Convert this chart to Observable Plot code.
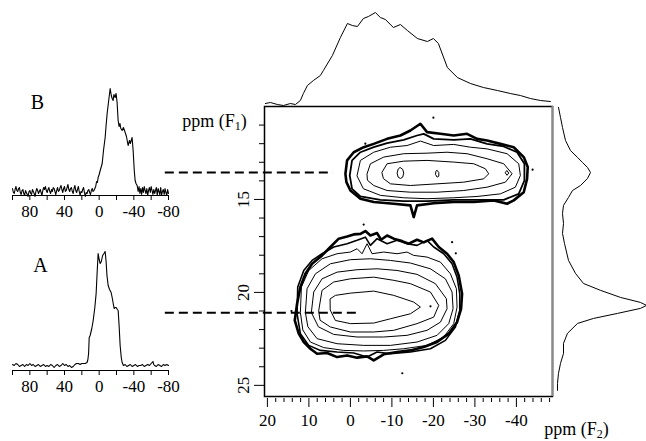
<!DOCTYPE html>
<html><head><meta charset="utf-8">
<script src="https://cdn.jsdelivr.net/npm/d3@7"></script>
<script src="https://cdn.jsdelivr.net/npm/@observablehq/plot@0.6"></script>
<style>
body{margin:0;background:#fff;}
#chart{position:relative;width:646px;height:441px;overflow:hidden;background:#fff;}
#chart svg{position:absolute;left:0;top:0;}
</style></head><body><div id="chart"></div>
<script>
// ---------- scales / ticks ----------
const F2_DOMAIN = [20.7, -48.7];
const F1_DOMAIN = [10, 25.6];
const f2Major = [20, 10, 0, -10, -20, -30, -40];
const f2Minor = [18,16,14,12,8,6,4,2,-2,-4,-6,-8,-12,-14,-16,-18,-22,-24,-26,-28,-32,-34,-36,-38,-42,-44,-46,-48];
const f1Major = [15, 20, 25];
const f1Minor = [11,12,13,14,16,17,18,19,21,22,23,24];
const specDomain = [100, -80];
const specMajor = [80, 40, 0, -40, -80];
const specMinor = [100, 60, 20, -20, -60];

// ---------- 1D spectrum B  [ppm, intensity] ----------
const spectrumB = [[100,2],[99,-2],[98,-3],[97,1],[96,4],[95,0],[94,-1],[93,2],[92,3],[91,-2],[90,-4],[89,0],[88,1],[87,-3],[86,-5],[85,0],[84,-2],[83,-4],[82,-6],[81,-1],[80,0],[79,-3],[78,-4],[77,1],[76,-1],[75,-3],[74,-6],[73,-1],[72,2],[71,0],[70,-3],[69,-1],[68,1],[67,-2],[66,-5],[65,0],[64,3],[63,1],[62,4],[61,0],[60,-2],[59,1],[58,3],[57,-1],[56,-3],[55,1],[54,-1],[53,3],[52,2],[51,-1],[50,-4],[49,0],[48,3],[47,-1],[46,0],[45,3],[44,5],[43,1],[42,-2],[41,2],[40,4],[39,-1],[38,0],[37,3],[36,6],[35,1],[34,-1],[33,2],[32,3],[31,-1],[30,-3],[29,2],[28,5],[27,0],[26,-2],[25,1],[24,4],[23,-1],[22,-5],[21,-1],[20,-2],[19,1],[18,3],[17,-2],[16,-6],[15,-2],[14,-3],[13,0],[12,1],[11,-2],[10,-4],[9,0],[8,2],[7,-1],[6,0],[5,2],[4,4],[3,9],[2,8],[1.2,13],[0,16],[-1.2,20],[-2.5,24],[-3.5,27],[-5,40],[-6.9,53],[-8,65],[-9.2,77],[-11,90],[-12.7,102],[-14,95],[-15,92],[-16.1,90],[-17,96],[-18.4,93],[-19.5,97],[-20.7,88],[-21.9,70],[-23,64],[-24,67],[-25,62],[-26.5,60],[-28,63],[-30,58],[-31.5,54],[-33.4,45],[-35,50],[-36,47],[-38,53],[-39.2,40],[-40.5,20],[-41.5,10],[-42.5,7],[-43.8,5],[-45,-1],[-46,4],[-47,-3],[-48,2],[-49,-4],[-50,3],[-51,-2],[-52,4],[-53,0],[-54,-3],[-55,2],[-56,-5],[-57,0],[-58,3],[-59,-2],[-60,4],[-61,0],[-62,-4],[-63,1],[-64,-3],[-65,0],[-66,3],[-67,-5],[-68,2],[-69,-1],[-70,-4],[-71,3],[-72,-5],[-73,-1],[-74,1],[-75,-4],[-76,2],[-77,-2],[-78,-5],[-79,1],[-80,-3]];

// ---------- 1D spectrum A  [ppm, intensity] ----------
const spectrumA = [[100,1],[98,0],[96,2],[94,1],[92,-1],[90,0],[88,1],[86,-1],[84,1],[82,0],[80,2],[78,0],[76,1],[74,-1],[72,0],[70,1],[68,-1],[66,0],[64,1],[62,-1],[60,0],[58,-1],[56,1],[54,0],[52,-2],[50,0],[48,1],[46,-1],[44,0],[42,2],[40,0],[38,1],[36,-1],[34,0],[32,-2],[30,-1],[28,1],[26,2],[24,2],[22,1],[20,2],[18,2],[16,2],[14,3],[13,6],[12.2,12],[11.5,28],[10.4,30],[8.5,37],[6.9,45],[5,58],[3.5,72],[2.5,90],[1.2,112],[0,106],[-1.2,102],[-2.5,104],[-4,110],[-5.5,112],[-6.9,114],[-8,104],[-9,90],[-10.4,80],[-12,76],[-13.8,73],[-15,68],[-16,63],[-17.3,57],[-18.5,58],[-19.6,58],[-21,56],[-21.9,55],[-23,40],[-24.2,20],[-25.5,8],[-26.5,3],[-28,0],[-30,1],[-32,-1],[-34,0],[-36,1],[-38,-1],[-40,0],[-42,1],[-44,-1],[-46,0],[-48,0],[-50,1],[-52,-1],[-54,0],[-56,1],[-58,0],[-60,2],[-62,4],[-63,1],[-64,0],[-66,-1],[-68,1],[-70,0],[-72,-1],[-74,1],[-76,0],[-78,1],[-80,0]];

// ---------- F2 projection (top)  [ppm F2, intensity] ----------
const projF2 = [[20.48,3],[19.28,4],[17.59,2],[16.14,1],[14.46,3],[13.25,2],[12.05,6],[11.33,13],[10.36,21],[8.92,26],[7.23,31],[6.51,36],[4.34,51],[2.41,69],[0.72,83],[-0.48,81],[-1.69,80],[-3.13,88],[-4.34,90],[-6.02,94],[-7.23,89],[-8.43,87],[-10.36,79],[-12.05,82],[-13.73,76],[-16.14,68],[-18.55,65],[-20,68],[-21.2,63],[-23.37,39],[-25.78,29],[-28.92,23],[-32.05,19],[-35.42,16],[-38.55,13],[-40.96,11],[-43.37,8],[-45.78,6],[-48.19,5]];

// ---------- F1 projection (right)  [ppm F1, intensity] ----------
const projF1 = [[10.05,2],[10.59,4],[11.13,6],[11.83,9],[12.37,14],[12.74,21],[13.01,26],[13.28,31],[13.55,34],[13.87,31],[14.25,24],[14.52,16],[14.89,12],[15.32,7],[15.75,6],[16.29,7],[16.83,6],[17.37,8],[18.28,12],[18.98,19],[19.52,27],[19.89,44],[20.27,64],[20.54,84],[20.7,90],[20.86,84],[21.13,61],[21.4,37],[21.67,21],[22.2,11],[22.74,7],[23.28,7],[23.82,4],[24.35,2],[24.89,1],[25.27,1]];

// ---------- 2D contours, site A (lower)  [F2, F1] ----------
const contourA1 = [[13.41,21.51],[12.85,20.61],[12.05,19.71],[10.84,19.0],[9.24,18.46],[6.83,18.01],[4.82,17.56],[2.81,17.11],[0.8,16.99],[-0.8,16.88],[-2.41,16.85],[-3.61,16.7],[-4.82,16.94],[-6.43,16.81],[-7.39,17.17],[-8.84,16.94],[-10.44,17.11],[-12.45,17.24],[-14.06,17.38],[-16.06,17.17],[-17.67,17.31],[-19.68,17.11],[-21.29,17.56],[-23.29,17.92],[-24.9,18.37],[-26.1,19.09],[-26.91,20.07],[-26.67,20.88],[-25.7,21.6],[-23.69,22.22],[-20.88,22.67],[-17.67,22.94],[-14.46,23.12],[-11.24,23.21],[-8.03,23.33],[-5.62,23.66],[-4.02,23.44],[-1.61,23.51],[0.8,23.39],[3.21,23.48],[5.62,23.26],[8.03,23.3],[9.64,23.03],[11.24,22.67],[12.45,22.22]];
const contourA2 = [[12.85,21.15],[12.69,19.71],[11.24,18.82],[9.24,18.28],[6.83,17.92],[4.02,17.56],[0.8,17.38],[-1.61,17.2],[-3.61,17.03],[-4.82,17.47],[-6.43,17.11],[-8.84,17.38],[-11.24,17.2],[-13.65,17.38],[-16.06,17.47],[-18.47,17.2],[-20.08,17.56],[-22.49,17.92],[-24.5,18.46],[-25.7,19.18],[-26.35,20.07],[-26.35,20.97],[-25.3,21.86],[-22.89,22.58],[-19.28,23.03],[-14.46,23.21],[-9.64,23.3],[-6.43,23.21],[-4.02,23.48],[-0.8,23.26],[3.21,23.21],[7.23,23.12],[10.04,22.85],[12.05,22.22]];
const contourA3 = [[12.05,21.06],[11.81,19.71],[10.04,18.82],[6.83,18.19],[3.21,17.92],[0,17.83],[-1.61,17.65],[-2.81,17.92],[-4.02,17.38],[-5.22,17.92],[-8.03,17.83],[-11.24,17.92],[-13.65,17.83],[-15.26,18.01],[-18.47,18.1],[-21.69,18.37],[-24.1,19.0],[-25.54,19.8],[-25.7,20.79],[-24.9,21.68],[-22.49,22.4],[-18.47,22.85],[-12.85,23.03],[-8.03,23.12],[-3.21,23.15],[1.61,23.12],[6.43,22.97],[9.64,22.67],[11.41,22.04]];
const contourA4 = [[10.84,21.06],[10.44,19.8],[8.43,19.0],[4.82,18.46],[0,18.24],[-4.82,18.19],[-9.64,18.28],[-14.46,18.42],[-19.28,18.73],[-22.89,19.27],[-24.5,19.98],[-24.74,20.88],[-23.69,21.68],[-20.88,22.31],[-16.06,22.67],[-9.64,22.85],[-3.21,22.85],[3.21,22.76],[8.03,22.49],[10.2,21.86]];
const contourA5 = [[9.4,21.06],[8.84,19.98],[6.83,19.27],[3.21,18.91],[-1.61,18.78],[-6.43,18.73],[-11.24,18.82],[-16.06,19.03],[-20.48,19.53],[-23.13,20.34],[-23.29,20.88],[-21.69,21.6],[-18.47,22.04],[-13.65,22.31],[-8.03,22.4],[-1.61,22.4],[4.02,22.26],[7.63,21.86]];
const contourA6 = [[7.63,20.97],[6.83,19.89],[4.02,19.44],[0,19.27],[-5.62,19.18],[-10.44,19.35],[-14.46,19.53],[-19.28,19.98],[-21.29,20.7],[-20.08,21.33],[-16.06,21.68],[-10.44,22.04],[-5.62,22.13],[0,22.13],[4.82,21.86],[7.23,21.51]];
const contourA7 = [[4.82,20.34],[3.61,20.16],[0,20.04],[-5.62,19.93],[-10.44,20.16],[-15.26,20.52],[-16.87,20.79],[-14.46,21.15],[-9.64,21.42],[-5.62,21.65],[0,21.68],[3.61,21.51],[4.82,20.97]];

// ---------- 2D contours, site B (upper)  [F2, F1] ----------
const contourB1 = [[1.2,13.62],[0.8,12.9],[-0.8,12.46],[-3.21,12.19],[-5.62,12.01],[-8.84,11.74],[-12.05,11.56],[-14.46,11.29],[-16.87,10.93],[-18.47,11.38],[-21.69,11.47],[-24.9,11.56],[-28.11,11.47],[-30.52,11.74],[-32.93,11.83],[-36.14,12.01],[-39.36,12.19],[-41.77,12.72],[-42.73,13.26],[-42.57,13.89],[-41.77,14.61],[-39.36,15.05],[-37.75,15.23],[-34.54,15.05],[-29.72,15.14],[-24.9,15.14],[-20.08,15.2],[-16.06,15.32],[-15.26,15.95],[-14.46,15.32],[-10.44,15.23],[-5.62,15.14],[-2.41,14.96],[0,14.52],[0.96,14.07]];
const contourB2 = [[0.16,13.71],[-0.4,12.9],[-2.41,12.46],[-5.62,12.19],[-8.84,11.97],[-12.85,11.79],[-16.06,11.56],[-17.67,11.47],[-20.08,11.74],[-24.9,11.79],[-28.92,11.74],[-32.93,12.01],[-36.95,12.15],[-40.16,12.46],[-41.93,13.08],[-41.93,13.98],[-40.56,14.7],[-36.95,15.02],[-31.33,15.02],[-24.9,15.02],[-18.47,15.09],[-12.85,15.09],[-7.23,15.02],[-2.41,14.84],[-0.4,14.43]];
const contourB3 = [[-1.61,13.71],[-2.41,12.9],[-5.62,12.46],[-9.64,12.19],[-13.65,12.1],[-16.87,11.86],[-20.08,12.1],[-24.9,12.04],[-28.92,12.19],[-32.93,12.28],[-37.75,12.54],[-40.56,13.08],[-40.96,13.71],[-39.76,14.34],[-36.14,14.7],[-30.52,14.84],[-24.9,14.91],[-18.47,14.96],[-12.85,14.91],[-7.23,14.78],[-3.21,14.43]];
const contourB4 = [[-4.02,13.62],[-4.82,13.08],[-8.03,12.72],[-12.85,12.54],[-18.47,12.51],[-23.29,12.46],[-28.11,12.54],[-32.93,12.81],[-36.95,13.08],[-38.96,13.62],[-37.35,14.07],[-32.93,14.34],[-27.31,14.52],[-20.88,14.61],[-14.46,14.61],[-8.84,14.52],[-5.62,14.25],[-4.18,13.98]];
const contourB5 = [[-7.63,13.53],[-8.84,13.08],[-12.85,12.94],[-18.47,12.9],[-24.9,12.99],[-29.72,13.08],[-32.53,13.35],[-33.33,13.62],[-32.13,13.89],[-27.31,14.07],[-20.88,14.16],[-14.46,14.25],[-9.64,14.16],[-8.03,13.89]];
const contourB6 = [[-12.05,13.29],[-12.6,13.38],[-12.85,13.58],[-12.6,13.8],[-12.05,13.87],[-11.5,13.8],[-11.25,13.58],[-11.5,13.38]];
const contourB7 = [[-20.9,13.44],[-21.3,13.55],[-21.3,13.75],[-20.9,13.8],[-20.5,13.65],[-20.6,13.5]];
const contourB8 = [[-37.75,13.46],[-38.15,13.58],[-37.75,13.7],[-37.35,13.58]];

// isolated noise specks [F2, F1]
const specks = [[-20,10.6],[-3.2,16.35],[-19.3,20.75],[-12.5,24.35],[-24.5,17.3],[-25.4,17.9],[-43.9,13.4],[-3.6,12.0],[14.2,21.0]];

// dashed guide lines: F1 level, F2 start, F2 end
const guideF1 = [13.55, 21.1];
const guideFrom = [44.6, 44.6];
const guideTo = [4.1, -2.4];

// ---------- drawing ----------
const W = 646, H = 441;
const FONT = "'Liberation Serif','Times New Roman',serif";
const baseStyle = {background: "transparent", overflow: "visible", fontFamily: FONT, fontSize: "17px", color: "black"};
const chartEl = document.getElementById("chart");
const X = d => d[0], Y = d => d[1];
const TXT = {textAnchor: "middle", lineAnchor: "middle", fill: "black"};

const plotW = W - 264 - 94, plotH = H - 106 - 45;
const contourStyle = [
  [contourA1, 2.6], [contourA2, 1.6], [contourA3, 1], [contourA4, 1], [contourA5, 1], [contourA6, 1], [contourA7, 1],
  [contourB1, 2.6], [contourB2, 1.8], [contourB3, 1], [contourB4, 1], [contourB5, 1], [contourB6, 1], [contourB7, 1], [contourB8, 1]
];
const guides = guideF1.map((f1, i) => ({f1, from: guideFrom[i], to: guideTo[i]}));

const mainSvg = Plot.plot({
  width: W, height: H, marginLeft: 264, marginRight: 94, marginTop: 106, marginBottom: 45,
  style: {...baseStyle, background: "white"},
  x: {domain: F2_DOMAIN, axis: null},
  y: {domain: F1_DOMAIN, reverse: true, axis: null},
  marks: [
    ...contourStyle.map(([c, w]) => Plot.line(c, {x: X, y: Y, curve: "linear-closed", stroke: "black", strokeWidth: w, strokeLinejoin: "round"})),
    Plot.dot(specks, {x: X, y: Y, r: 1.1, fill: "black", stroke: null}),
    Plot.ruleY(guides, {y: "f1", x1: "from", x2: "to", stroke: "black", strokeWidth: 2, strokeDasharray: "9,5"}),
    Plot.frame({stroke: "black", strokeWidth: 1.5}),
    Plot.ruleX([F2_DOMAIN[1]], {stroke: "#8a8a8a", strokeWidth: 2}),
    Plot.ruleX(f2Minor, {x: d => d, insetTop: plotH + 2, insetBottom: -6, stroke: "black"}),
    Plot.ruleX(f2Major, {x: d => d, insetTop: plotH + 2, insetBottom: -11, stroke: "black"}),
    Plot.text(f2Major, {x: d => d, text: d => String(d), frameAnchor: "bottom", dy: 24, fontSize: 17, ...TXT}),
    Plot.ruleY(f1Minor, {y: d => d, insetLeft: -5, insetRight: plotW, stroke: "black"}),
    Plot.ruleY(f1Major, {y: d => d, insetLeft: -10, insetRight: plotW, stroke: "black"}),
    Plot.text(f1Major, {y: d => d, text: d => String(d), frameAnchor: "left", dx: -21, rotate: -90, fontSize: 17, ...TXT}),
    Plot.text(["ppm (F1)"], {frameAnchor: "top-left", dx: -50, dy: 15, fontSize: 18, ...TXT}),
    Plot.text(["ppm (F2)"], {frameAnchor: "bottom-right", dx: 24, dy: 33, fontSize: 18, ...TXT})
  ]
});
chartEl.appendChild(mainSvg);

// top projection (F2)
const topSvg = Plot.plot({
  width: W, height: H, marginLeft: 264, marginRight: 94, marginTop: 0, marginBottom: H - 106,
  style: baseStyle,
  x: {domain: F2_DOMAIN, axis: null},
  y: {domain: [0, 106], axis: null},
  marks: [Plot.line(projF2, {x: X, y: Y, stroke: "black", strokeWidth: 1})]
});
chartEl.appendChild(topSvg);

// right projection (F1)
const rightSvg = Plot.plot({
  width: W, height: H, marginLeft: 556, marginRight: 0, marginTop: 106, marginBottom: 45,
  style: baseStyle,
  x: {domain: [0, 90], axis: null},
  y: {domain: F1_DOMAIN, reverse: true, axis: null},
  marks: [Plot.line(projF1, {x: Y, y: X, stroke: "black", strokeWidth: 1})]
});
chartEl.appendChild(rightSvg);

// 1D spectra
function spectrum(data, label, yTop, yBottom, yDomain, lx, ly) {
  const ph = yBottom - yTop;
  return Plot.plot({
    width: W, height: H, marginLeft: 12, marginRight: W - 168, marginTop: yTop, marginBottom: H - yBottom,
    style: baseStyle,
    x: {domain: specDomain, axis: null},
    y: {domain: yDomain, axis: null},
    marks: [
      Plot.line(data, {x: X, y: Y, stroke: "black", strokeWidth: 1.1}),
      Plot.ruleY([yDomain[0]], {stroke: "black", strokeWidth: 1.2}),
      Plot.ruleX(specMinor.concat(specMajor), {x: d => d, insetTop: ph, insetBottom: -5, stroke: "black"}),
      Plot.text(specMajor, {x: d => d, text: d => String(d), frameAnchor: "bottom", dy: 16, fontSize: 17, ...TXT}),
      Plot.text([label], {frameAnchor: "top-left", dx: lx, dy: ly, fontSize: 20, ...TXT})
    ]
  });
}
chartEl.appendChild(spectrum(spectrumB, "B", 80, 195, [-5, 110], 25, 22));
chartEl.appendChild(spectrum(spectrumA, "A", 240, 370, [-5, 125], 28, 25));

// subscripts in the axis titles
d3.select(chartEl).selectAll("text").each(function() {
  const m = /^ppm \(F(\d)\)$/.exec(this.textContent);
  if (m) {
    const sel = d3.select(this);
    sel.text(null);
    sel.append("tspan").text("ppm (F");
    sel.append("tspan").attr("dy", 3).attr("font-size", 12).text(m[1]);
    sel.append("tspan").attr("dy", -3).text(")");
  }
});
</script></body></html>
